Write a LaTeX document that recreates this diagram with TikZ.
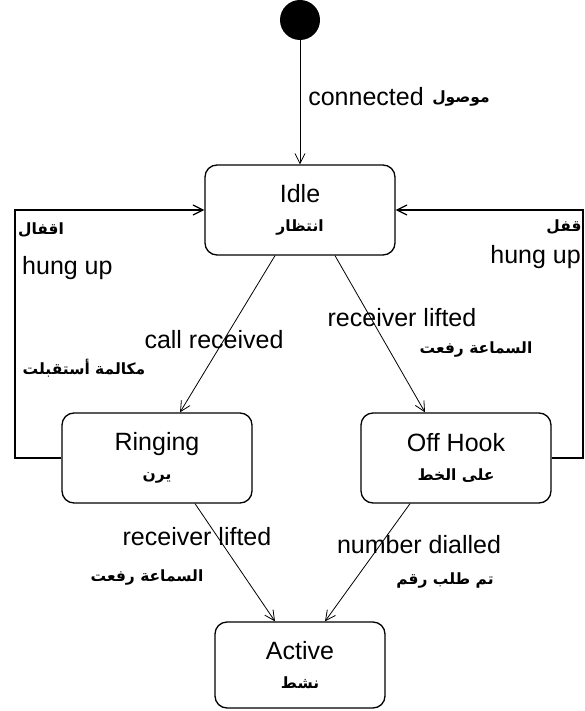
\documentclass[tikz,border=0pt]{standalone}
\usepackage{fontspec}
\setmainfont{Liberation Sans}
\newfontfamily\arabicfont[Script=Arabic]{DejaVu Sans}
\TeXXeTstate=1
\usetikzlibrary{arrows.meta}
\newcommand{\arab}[1]{{\arabicfont\bfseries\fontsize{15.5}{18}\selectfont\beginR #1\endR}}

\begin{document}
\begin{tikzpicture}[
  x=1pt, y=-1pt,
  state/.style={rectangle, draw, line width=1.3pt, rounded corners=12pt, minimum width=190pt, minimum height=90pt, align=center, font=\fontsize{25}{29}\selectfont},
  trans/.style={-{Straight Barb[length=10pt,width=10pt]}, line width=0.8pt},
  loopline/.style={-{Straight Barb[length=10pt,width=10pt]}, line width=1.2pt},
  lbl/.style={font=\fontsize{25}{28}\selectfont, inner sep=0pt},
  arlbl/.style={inner sep=0pt}
]
  \useasboundingbox (0,0) rectangle (584,711);

  % states
  \node[circle, fill=black, minimum size=40pt, inner sep=0pt] (start) at (300,20) {};
  \node[state] (idle)    at (300,210) {Idle\\\arab{انتظار}};
  \node[state] (ringing) at (157,458) {Ringing\\\arab{يرن}};
  \node[state] (offhook) at (456,458) {Off Hook\\\arab{على الخط}};
  \node[state, minimum width=170pt, minimum height=86pt] (active) at (300,665) {Active\\\arab{نشط}};

  % transitions
  \draw[trans] (start) -- (idle.north);
  \draw[trans] ([xshift=-25pt]idle.south) -- ([xshift=23pt]ringing.north);
  \draw[trans] ([xshift=35pt]idle.south) -- ([xshift=-31pt]offhook.north);
  \draw[trans] ([xshift=38pt]ringing.south) -- ([xshift=-25pt]active.north);
  \draw[trans] ([xshift=-46pt]offhook.south) -- ([xshift=25pt]active.north);

  \coordinate (lcorner) at (15,458);
  \coordinate (rcorner) at (583,458);
  \draw[loopline] (ringing.west) -- (lcorner) |- (idle.west);
  \draw[loopline] (offhook.east) -- (rcorner) |- (idle.east);

  % labels
  \node[lbl]   (lconn)  at (366,97)  {connected};
  \node[arlbl] (aconn)  at (461,99)  {\arab{موصول}};
  \node[arlbl] (ahungl) at (41,230)  {\arab{اقفال}};
  \node[lbl, anchor=west] (lhungl) at (22,268) {hung up};
  \node[arlbl] (ahungr) at (564,227) {\arab{قفل}};
  \node[lbl, anchor=east] (lhungr) at (581,257) {hung up};
  \node[lbl]   (lcall)  at (214,340) {call received};
  \node[arlbl] (acall)  at (84,368)  {\arab{مكالمة أستقبلت}};
  \node[lbl]   (llift1) at (402,318) {receiver lifted};
  \node[arlbl] (alift1) at (476,350) {\arab{السماعة رفعت}};
  \node[lbl]   (llift2) at (197,537) {receiver lifted};
  \node[arlbl] (alift2) at (147,577) {\arab{السماعة رفعت}};
  \node[lbl]   (ldial)  at (419,545) {number dialled};
  \node[arlbl] (adial)  at (445,580) {\arab{تم طلب رقم}};
\end{tikzpicture}
\end{document}
